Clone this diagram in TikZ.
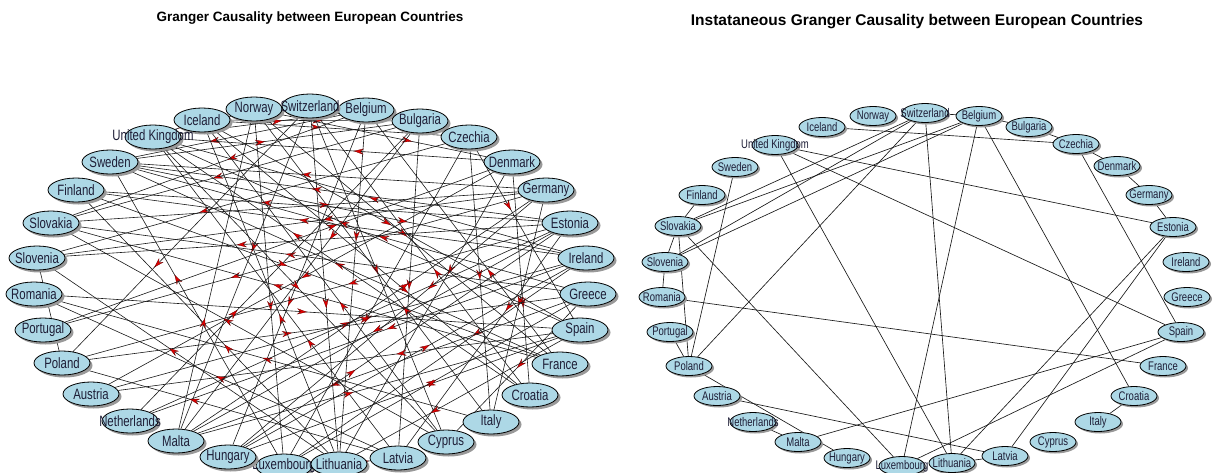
\documentclass[tikz,border=0pt]{standalone}
\usepackage{fontspec}
\setmainfont{Liberation Sans}[FakeStretch=0.76]
\newfontfamily\titlefont{Liberation Sans}
\usetikzlibrary{shapes.geometric,shadows,decorations.markings,arrows.meta}
\definecolor{nodeblue}{RGB}{173,216,230}
\definecolor{txt}{RGB}{30,30,55}
\definecolor{tipred}{RGB}{225,0,0}
\pgfdeclarelayer{bg}
\pgfsetlayers{bg,main}
\tikzset{
  lnode/.style={ellipse, draw=black, line width=0.8pt, fill=nodeblue, minimum width=56pt, minimum height=24pt, inner sep=0pt,
    drop shadow={shadow xshift=2.5pt, shadow yshift=-2.5pt, fill=black!40, opacity=1}},
  rnode/.style={ellipse, draw=black, line width=0.8pt, fill=nodeblue, minimum width=46pt, minimum height=19pt, inner sep=0pt,
    drop shadow={shadow xshift=2pt, shadow yshift=-2pt, fill=black!40, opacity=1}},
  ltext/.style={text=txt, inner sep=0pt, font=\fontsize{15}{15}\selectfont},
  rtext/.style={text=txt, inner sep=0pt, font=\fontsize{12.5}{12.5}\selectfont},
  ledge/.style={draw=black!90, line width=0.6pt, postaction={decorate},
    decoration={markings, mark=at position #1 with {\arrow{Stealth[length=10pt,width=6pt,color=red!40!black,fill=tipred,line width=0.3pt]}}}},
  redge/.style={draw=black!90, line width=0.65pt},
  ttl/.style={font=\titlefont\bfseries\fontsize{13.5}{15}\selectfont, text=black}
}
\newcommand\LN[4]{\node[lnode,label={[ltext]center:#4}] (L#1) at (#2,#3) {};}
\newcommand\RN[4]{\node[rnode,label={[rtext]center:#4}] (R#1) at (#2,#3) {};}
\begin{document}
\begin{tikzpicture}[x=1pt,y=-1pt]
\useasboundingbox (0,0) rectangle (1213,472);
\node[ttl] (t1) at (310,18) {Granger Causality between European Countries};
\node[ttl, font=\titlefont\bfseries\fontsize{15.5}{17}\selectfont] (t2) at (917,22) {Instataneous Granger Causality between European Countries};
% left graph nodes
\LN{IS}{202}{120}{Iceland}
\LN{NO}{254}{109}{Norway}
\LN{BE}{366}{110}{Belgium}
\LN{CH}{310}{106}{Switzerland}
\LN{BG}{420}{121}{Bulgaria}
\LN{CZ}{469}{137}{Czechia}
\LN{DK}{512}{162}{Denmark}
\LN{DE}{546}{190}{Germany}
\LN{EE}{570}{223}{Estonia}
\LN{IE}{586}{258}{Ireland}
\LN{GR}{588}{294}{Greece}
\LN{ES}{580}{330}{Spain}
\LN{FR}{560}{364}{France}
\LN{HR}{530}{395}{Croatia}
\LN{IT}{491}{422}{Italy}
\LN{CY}{446}{442}{Cyprus}
\LN{LV}{398}{458}{Latvia}
\LN{LU}{284}{466}{Luxembourg}
\LN{LT}{339}{464}{Lithuania}
\LN{HU}{228}{457}{Hungary}
\LN{MT}{176}{441}{Malta}
\LN{NL}{130}{421}{Netherlands}
\LN{AT}{91}{394}{Austria}
\LN{PL}{62}{363}{Poland}
\LN{PT}{43}{330}{Portugal}
\LN{RO}{34}{294}{Romania}
\LN{SI}{37}{258}{Slovenia}
\LN{SK}{51}{223}{Slovakia}
\LN{FI}{76}{190}{Finland}
\LN{SE}{110}{162}{Sweden}
\LN{UK}{153}{137}{United Kingdom}
% right graph nodes
\RN{IS}{822}{127}{Iceland}
\RN{NO}{873}{116}{Norway}
\RN{BE}{979}{116}{Belgium}
\RN{CH}{925}{113}{Switzerland}
\RN{BG}{1029}{127}{Bulgaria}
\RN{CZ}{1076}{144}{Czechia}
\RN{DK}{1117}{166}{Denmark}
\RN{DE}{1149}{195}{Germany}
\RN{EE}{1173}{227}{Estonia}
\RN{IE}{1186}{262}{Ireland}
\RN{GR}{1187}{297}{Greece}
\RN{ES}{1181}{332}{Spain}
\RN{FR}{1163}{366}{France}
\RN{HR}{1134}{396}{Croatia}
\RN{IT}{1098}{422}{Italy}
\RN{CY}{1053}{442}{Cyprus}
\RN{LV}{1005}{456}{Latvia}
\RN{LT}{952}{463}{Lithuania}
\RN{LU}{902}{466}{Luxembourg}
\RN{HU}{847}{458}{Hungary}
\RN{MT}{798}{442}{Malta}
\RN{NL}{753}{422}{Netherlands}
\RN{AT}{717}{396}{Austria}
\RN{PL}{689}{366}{Poland}
\RN{PT}{670}{332}{Portugal}
\RN{RO}{662}{297}{Romania}
\RN{SI}{665}{262}{Slovenia}
\RN{SK}{678}{226}{Slovakia}
\RN{FI}{702}{195}{Finland}
\RN{SE}{735}{167}{Sweden}
\RN{UK}{775}{145}{United Kingdom}
\begin{pgfonlayer}{bg}
\fill[white] (0,0) rectangle (1213,472);
\foreach \a/\b [count=\i] in {IS/BG,IS/CZ,IS/HR,IS/ES,IS/UK,NO/LU,NO/BE,NO/DK,NO/FR,CH/BE,CH/LT,CH/MT,CH/PL,CH/CY,
  BE/LT,BE/HU,BE/SK,BE/SE,BG/LV,BG/MT,BG/SK,BG/CZ,CZ/SI,CZ/IT,CZ/ES,CZ/LU,DK/UK,DK/HR,DK/AT,DK/LT,
  DE/SE,DE/SI,DE/PT,DE/IT,DE/HU,EE/SE,EE/PL,EE/FI,EE/MT,EE/LV,IE/FI,IE/NL,EE/SI,IE/UK,IE/LU,
  GR/SK,GR/SE,GR/MT,GR/CY,ES/AT,ES/UK,ES/HU,ES/LT,FR/SE,FR/BE,FR/SK,HR/CH,HR/UK,IT/RO,IT/NO,
  CY/SK,CY/IS,LV/PL,LV/RO,LV/UK,LT/SI,LT/FI,LU/SE,LU/GR,HU/EE,HU/IE,MT/ES,MT/DE,NL/EE,NL/BG,
  AT/IE,PL/GR,PT/DK,RO/ES,SI/PL,SK/DE,FI/FR,SE/IE,UK/CY,MT/NO,LT/LV,LT/IS,UK/BE,SE/BG,IS/CH}
  {\pgfmathsetmacro\pp{0.36+0.07*mod(\i*3,5)}
   \draw[ledge=\pp] (L\a) -- (L\b);}
\foreach \a/\b in {FI/SK,SK/SI,SI/RO,PT/PL,SK/PL,SE/PL,CH/PL,PL/HU,RO/FR,AT/LV,NL/MT,MT/ES,LU/ES,SK/LU,
  BE/LU,CH/LT,UK/LT,LT/LV,EE/LT,EE/LV,HR/IT,BE/HR,CZ/ES,UK/ES,UK/EE,IS/CZ,SK/CH,SK/BE,SI/CH,SI/BE,
  CH/BE,BE/BG,BG/CZ,CZ/DK,DK/DE,DE/EE}
  \draw[redge] (R\a) -- (R\b);
\end{pgfonlayer}
\end{tikzpicture}
\end{document}
